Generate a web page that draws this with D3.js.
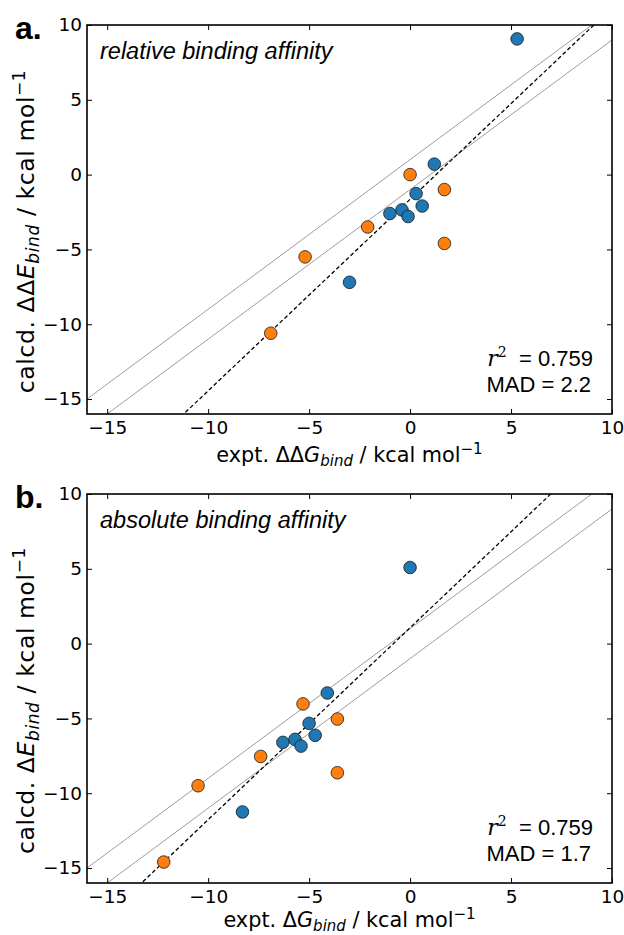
<!DOCTYPE html>
<html>
<head>
<meta charset="utf-8">
<script src="https://cdn.jsdelivr.net/npm/d3@7"></script>
<style>
  body { margin: 0; background: #fff; }
  svg { display: block; }
  .tick text { font-family: "DejaVu Sans", sans-serif; font-size: 18.5px; fill: #000; }
  .ann { font-family: "Liberation Sans", Arial, sans-serif; }
</style>
</head>
<body>
<svg id="chart" width="624" height="935"></svg>
<script>
// axis ticks / domain
var axisDomain = [-16, 10];
var tickVals = [-15, -10, -5, 0, 5, 10];

// panel a: relative binding affinity (expt ddG, calcd ddE)
var relBlueX = [5.3, 1.2, 0.3, 0.6, -0.4, -1.0, -0.1, -3.0];
var relBlueY = [9.07, 0.7, -1.27, -2.1, -2.36, -2.6, -2.8, -7.2];
var relOrangeX = [0.0, 1.7, -2.1, 1.7, -5.2, -6.9];
var relOrangeY = [0.0, -1.0, -3.5, -4.6, -5.5, -10.6];
var relFit = [1.28, -1.65];   // slope, intercept
var relStats = ["0.759", "2.2"];

// panel b: absolute binding affinity
var absBlueX = [0.0, -4.1, -5.0, -4.7, -5.7, -6.3, -5.4, -8.3];
var absBlueY = [5.09, -3.3, -5.33, -6.13, -6.4, -6.6, -6.85, -11.25];
var absOrangeX = [-5.3, -3.6, -7.4, -3.6, -10.5, -12.2];
var absOrangeY = [-4.03, -5.04, -7.54, -8.63, -9.5, -14.6];
var absFit = [1.283, 1.06];
var absStats = ["0.759", "1.7"];

// grey band lines y = x +/- 1
var bandOffsets = [1, -1];

var svg = d3.select("#chart");
var blue = "#1f77b4", orange = "#ff7f0e";

function zip(xs, ys) { return xs.map((v, i) => [v, ys[i]]); }

function drawPanel(cfg) {
    var margin = {left: 87, right: 12},
        top = cfg.top, bottom = cfg.bottom;

    var x = d3.scaleLinear().domain(axisDomain).range([margin.left, 624 - margin.right]);
    var y = d3.scaleLinear().domain(axisDomain).range([bottom, top]);

    var g = svg.append("g");

    g.append("clipPath").attr("id", "clip-" + cfg.id)
        .append("rect")
        .attr("x", x.range()[0]).attr("y", top)
        .attr("width", x.range()[1] - x.range()[0]).attr("height", bottom - top);

    var lines = g.append("g").attr("clip-path", "url(#clip-" + cfg.id + ")");

    bandOffsets.forEach(function(off) {
        lines.append("line")
            .attr("x1", x(-20)).attr("y1", y(-20 + off))
            .attr("x2", x(15)).attr("y2", y(15 + off))
            .attr("stroke", "#919191").attr("stroke-width", 0.9);
    });

    lines.append("line")
        .attr("x1", x(-20)).attr("y1", y(cfg.fit[0] * -20 + cfg.fit[1]))
        .attr("x2", x(15)).attr("y2", y(cfg.fit[0] * 15 + cfg.fit[1]))
        .attr("stroke", "#000").attr("stroke-width", 1.3)
        .attr("stroke-dasharray", "4,2.5");

    // axes, ticks pointing inward
    g.append("g").attr("transform", `translate(0,${bottom})`)
        .call(d3.axisBottom(x).tickValues(tickVals).tickSize(-5).tickPadding(7).tickSizeOuter(0));
    g.append("g").attr("transform", `translate(${margin.left},0)`)
        .call(d3.axisLeft(y).tickValues(tickVals).tickSize(-5).tickPadding(5).tickSizeOuter(0));
    g.append("g").attr("transform", `translate(0,${top})`)
        .call(d3.axisTop(x).tickValues(tickVals).tickSize(-5).tickFormat("").tickSizeOuter(0));
    g.append("g").attr("transform", `translate(${x.range()[1]},0)`)
        .call(d3.axisRight(y).tickValues(tickVals).tickSize(-5).tickFormat("").tickSizeOuter(0));
    g.selectAll(".domain").remove();
    g.selectAll(".tick line").attr("stroke", "#000").attr("stroke-width", 1);

    g.append("rect")
        .attr("x", x.range()[0]).attr("y", top)
        .attr("width", x.range()[1] - x.range()[0]).attr("height", bottom - top)
        .attr("fill", "none").attr("stroke", "#000").attr("stroke-width", 1.6);

    // points
    var pts = g.append("g");
    pts.selectAll(".pb").data(zip(cfg.bx, cfg.by)).enter().append("circle")
        .attr("cx", d => x(d[0])).attr("cy", d => y(d[1])).attr("r", 6.3)
        .attr("fill", blue).attr("stroke", "#1a1a1a").attr("stroke-width", 0.8);
    pts.selectAll(".po").data(zip(cfg.ox, cfg.oy)).enter().append("circle")
        .attr("cx", d => x(d[0])).attr("cy", d => y(d[1])).attr("r", 6.3)
        .attr("fill", orange).attr("stroke", "#1a1a1a").attr("stroke-width", 0.8);

    // panel letter
    g.append("text").attr("class", "ann")
        .attr("x", 15).attr("y", top + 14)
        .attr("font-size", 32).attr("font-weight", "bold")
        .text(cfg.letter);

    g.append("text").attr("class", "ann")
        .attr("x", x.range()[0] + 13).attr("y", top + 34)
        .attr("font-size", 23.5).attr("font-style", "italic")
        .text(cfg.title);

    // stats
    var st = g.append("text").attr("class", "ann").attr("font-size", 22)
        .attr("text-anchor", "end").attr("x", 593).attr("y", bottom - 48);
    st.append("tspan").attr("font-family", "'DejaVu Serif', serif").attr("font-style", "italic").text("r");
    st.append("tspan").attr("font-family", "'DejaVu Serif', serif").attr("font-size", 14).attr("dy", -9).text("2");
    st.append("tspan").attr("dy", 9).attr("xml:space", "preserve").text("\u00a0\u00a0= " + cfg.stats[0]);
    g.append("text").attr("class", "ann").attr("font-size", 22)
        .attr("text-anchor", "end").attr("x", 591).attr("y", bottom - 22)
        .text("MAD = " + cfg.stats[1]);

    // x label
    var xl = g.append("text")
        .attr("font-family", "'DejaVu Sans', sans-serif").attr("font-size", 20.8)
        .attr("text-anchor", "middle")
        .attr("x", (x.range()[0] + x.range()[1]) / 2).attr("y", bottom + cfg.xlabOff);
    xl.append("tspan").text("expt. " + cfg.delta);
    xl.append("tspan").attr("font-style", "italic").text("G");
    xl.append("tspan").attr("font-style", "italic").attr("font-size", 15).attr("dy", 4).text("bind");
    xl.append("tspan").attr("dy", -4).text(" / kcal mol");
    xl.append("tspan").attr("font-size", 15).attr("dy", -8).text("\u22121");

    // y label
    var yl = g.append("text")
        .attr("font-family", "'DejaVu Sans', sans-serif").attr("font-size", 23.5)
        .attr("letter-spacing", 0.6)
        .attr("text-anchor", "middle")
        .attr("transform", `translate(34,${(top + bottom) / 2 + 12}) rotate(-90)`);
    yl.append("tspan").text("calcd. " + cfg.delta);
    yl.append("tspan").attr("font-style", "italic").text("E");
    yl.append("tspan").attr("font-style", "italic").attr("font-size", 17).attr("dy", 5).text("bind");
    yl.append("tspan").attr("dy", -5).text(" / kcal mol");
    yl.append("tspan").attr("font-size", 17).attr("dy", -9).text("\u22121");
}

drawPanel({id: "a", letter: "a.", title: "relative binding affinity", top: 25, bottom: 414, xlabOff: 48,
    bx: relBlueX, by: relBlueY, ox: relOrangeX, oy: relOrangeY, fit: relFit, stats: relStats, delta: "\u0394\u0394"});
drawPanel({id: "b", letter: "b.", title: "absolute binding affinity", top: 494, bottom: 883, xlabOff: 44,
    bx: absBlueX, by: absBlueY, ox: absOrangeX, oy: absOrangeY, fit: absFit, stats: absStats, delta: "\u0394"});
</script>
</body>
</html>
